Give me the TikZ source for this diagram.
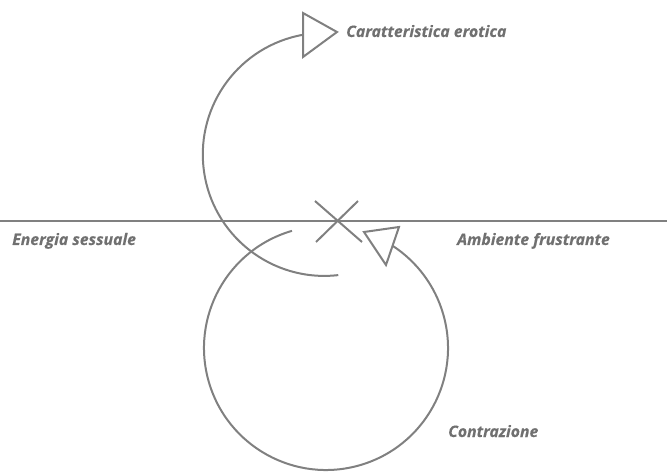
\documentclass[tikz,border=0pt]{standalone}
\usepackage{fontspec}
\setmainfont{Open Sans}
\newfontfamily\lblfont{Open Sans}[BoldItalicFeatures={FakeBold=0.4}]
\definecolor{linegray}{RGB}{128,128,128}
\definecolor{textgray}{RGB}{112,112,112}
\tikzset{
  lbl/.style={anchor=base west, inner sep=0pt, text=textgray, font=\lblfont\fontsize{15.8}{18}\selectfont\bfseries\itshape},
  curve/.style={draw=linegray, line width=2pt},
  tri/.style={draw=linegray, line width=2pt, fill=white, line join=miter},
}
\begin{document}
\begin{tikzpicture}[x=1pt,y=1pt]
\useasboundingbox (0,0) rectangle (667,472);
% horizontal line
\coordinate (hl) at (0,251);
\coordinate (hr) at (667,251);
\draw[curve, line width=2.5pt] (hl) -- (hr);
% labels
\node[lbl] (car) at (346,435) {Caratteristica erotica};
\node[lbl] (ene) at (12,227) {Energia sessuale};
\node[lbl] (amb) at (457,227) {Ambiente frustrante};
\node[lbl] (con) at (448,35) {Contrazione};
% X mark
\coordinate (x1) at (315,271);
\coordinate (x2) at (362,230);
\coordinate (x3) at (358,271);
\coordinate (x4) at (316,230);
\draw[curve] (x1) -- (x2);
\draw[curve] (x3) -- (x4);
% upper curve (centre 324,318; r 121.5)
\coordinate (uc) at (324.3,317.6);
\draw[curve] (uc) ++(276.6:121.5) arc[start angle=276.6, end angle=100.1, radius=121.5] coordinate (ue);
% upper triangle
\coordinate (ut1) at (303,459);
\coordinate (ut2) at (337,440);
\coordinate (ut3) at (303,415);
\draw[tri] (ut1) -- (ut2) -- (ut3) -- cycle;
% lower curve (centre 326,124; r 122)
\coordinate (lc) at (326,124);
\draw[curve] (lc) ++(106.2:122) arc[start angle=106.2, end angle=416.9, radius=122] coordinate (le);
% lower triangle
\coordinate (lt1) at (364,240);
\coordinate (lt2) at (399,245);
\coordinate (lt3) at (386,207);
\draw[tri] (lt1) -- (lt2) -- (lt3) -- cycle;
\end{tikzpicture}
\end{document}
